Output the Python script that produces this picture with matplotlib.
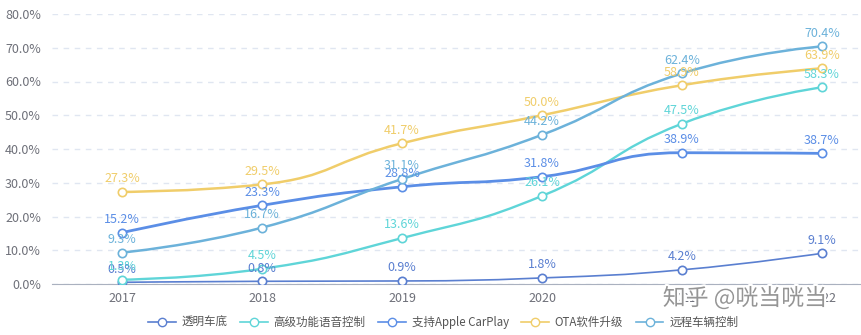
import numpy as np
import matplotlib.pyplot as plt
import matplotlib.patheffects as pe
from matplotlib.path import Path
from matplotlib.patches import PathPatch
from matplotlib.lines import Line2D

plt.rcParams['font.family'] = ['Noto Sans CJK SC', 'DejaVu Sans']

years = ['2017', '2018', '2019', '2020', '2021', '2022']
names = ['透明车底', '高级功能语音控制', '支持Apple CarPlay', 'OTA软件升级', '远程车辆控制']
transparent_chassis = [0.5, 0.8, 0.9, 1.8, 4.2, 9.1]
voice_control = [1.3, 4.5, 13.6, 26.1, 47.5, 58.3]
carplay = [15.2, 23.3, 28.8, 31.8, 38.9, 38.7]
ota_upgrade = [27.3, 29.5, 41.7, 50.0, 58.9, 63.9]
remote_control = [9.3, 16.7, 31.1, 44.2, 62.4, 70.4]

series = [transparent_chassis, voice_control, carplay, ota_upgrade, remote_control]
colors = ['#5a7fd0', '#5fd5d8', '#5b8ee6', '#f0cd6a', '#6cb2da']
widths = [1.2, 1.7, 2.0, 1.8, 1.8]

fig = plt.figure(figsize=(8.62, 3.35), dpi=100)
ax = fig.add_axes([52 / 862, 51 / 335, 840 / 862, 270 / 335])
ax.set_xlim(-0.5, 5.5)
ax.set_ylim(0, 80)


def smooth_path(xs, ys, smooth=0.5):
    # bezier smoothing with clamped control points (no overshoot), in screen space
    pts = ax.transData.transform(np.column_stack([xs, ys]))
    n = len(pts)
    cp_in = [pts[0].copy() for _ in range(n)]
    cp_out = [p.copy() for p in pts]
    cp_in[-1] = pts[-1].copy()
    for i in range(1, n - 1):
        prev, cur, nxt = pts[i - 1], pts[i], pts[i + 1]
        l0 = np.hypot(*(cur - prev))
        l1 = np.hypot(*(nxt - cur))
        r = l1 / (l0 + l1)
        nc = cur + (nxt - prev) * smooth * r
        nc = np.minimum(nc, np.maximum(nxt, cur))
        nc = np.maximum(nc, np.minimum(nxt, cur))
        c1 = cur - (nc - cur) * l0 / l1
        c1 = np.minimum(c1, np.maximum(prev, cur))
        c1 = np.maximum(c1, np.minimum(prev, cur))
        nc = cur + (cur - c1) * l1 / l0
        cp_in[i] = c1
        cp_out[i] = nc
    verts = [pts[0]]
    codes = [Path.MOVETO]
    for i in range(n - 1):
        verts += [cp_out[i], cp_in[i + 1], pts[i + 1]]
        codes += [Path.CURVE4] * 3
    verts = ax.transData.inverted().transform(np.array(verts))
    return Path(verts, codes)


x = np.arange(len(years))
for vals, c, lw in zip(series, colors, widths):
    ax.add_patch(PathPatch(smooth_path(x, vals), fill=False, edgecolor=c, lw=lw, zorder=3))
    ax.plot(x, vals, 'o', ms=6, mfc='white', mec=c, mew=1.2, zorder=4)
    for xi, v in zip(x, vals):
        ax.annotate(f'{v:.1f}%', (xi, v), xytext=(0, 9.5), textcoords='offset points',
                    ha='center', va='center', fontsize=9, color=c, zorder=5)

ax.set_yticks(np.arange(0, 81, 10))
ax.set_yticklabels([f'{t:.1f}%' for t in range(0, 81, 10)])
ax.set_xticks(x)
ax.set_xticklabels(years)
ax.tick_params(axis='y', length=0, pad=8, labelsize=9, labelcolor='#6e7079')
ax.tick_params(axis='x', length=0, pad=6, labelsize=9, labelcolor='#6e7079')
ax.grid(axis='y', ls=(0, (4, 4)), color='#e0e6f1', lw=1)
ax.set_axisbelow(True)
for s in ['top', 'right', 'left']:
    ax.spines[s].set_visible(False)
ax.spines['bottom'].set_color('#aab1bf')

handles = [Line2D([0], [0], color=c, lw=1.2, marker='o', ms=6, mfc='white', mec=c)
           for c in colors]
fig.legend(handles, names, loc='center', bbox_to_anchor=(0.514, 0.038), ncol=5,
           frameon=False, fontsize=8.3, labelcolor='#555555', handlelength=2.4,
           handletextpad=0.5, columnspacing=1.1)

fig.text(0.864, 0.11, '知乎 @咣当咣当', fontsize=16.5, color='#959595', ha='center', va='center',
         path_effects=[pe.withStroke(linewidth=3, foreground='white')], zorder=10)

fig.savefig('out.png', dpi=100)
